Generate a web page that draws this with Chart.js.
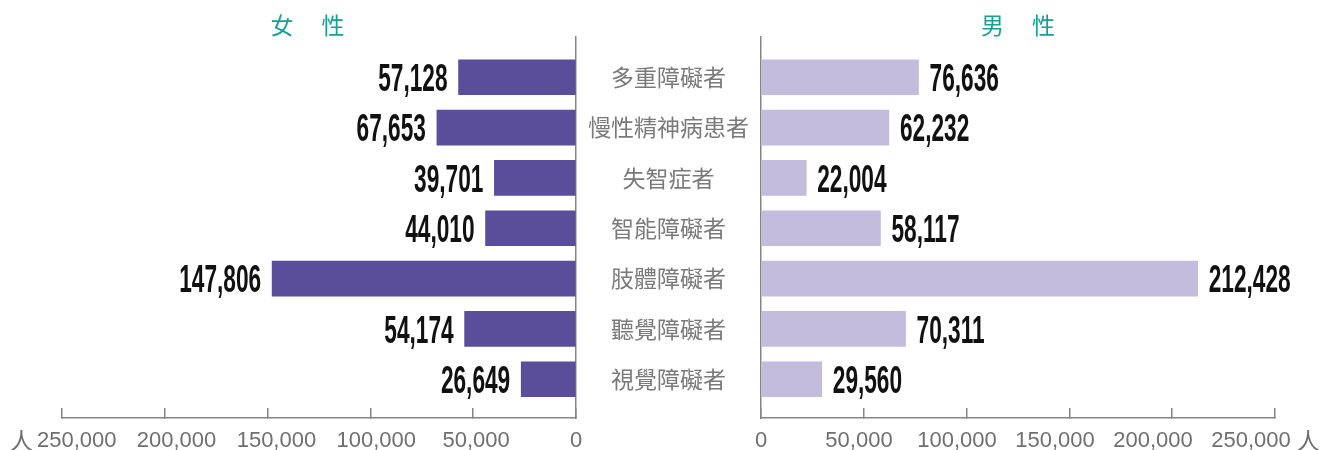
<!DOCTYPE html>
<html>
<head>
<meta charset="utf-8">
<script src="https://cdn.jsdelivr.net/npm/chart.js@4.4.1/dist/chart.umd.min.js"></script>
<style>
  html, body { margin: 0; padding: 0; background: #fff; }
  #wrap { position: relative; width: 1322px; height: 450px; }
  #femaleChart { position: absolute; left: 0; top: 0; }
  #maleChart { position: absolute; left: 577px; top: 0; }
</style>
</head>
<body>
<div id="wrap">
  <canvas id="femaleChart" width="600" height="450"></canvas>
  <canvas id="maleChart" width="745" height="450"></canvas>
</div>
<script>
var categories = ['多重障礙者', '慢性精神病患者', '失智症者', '智能障礙者', '肢體障礙者', '聽覺障礙者', '視覺障礙者'];
var femaleValues = [57128, 67653, 39701, 44010, 147806, 54174, 26649];
var maleValues = [76636, 62232, 22004, 58117, 212428, 70311, 29560];
var axisTicks = [0, 50000, 100000, 150000, 200000, 250000];
var axisMax = 250000;
var unitText = '人';

var AXIS_COLOR = '#858585';
var TICK_COLOR = '#6f6f6f';
var TICK_FONT = { family: '"Liberation Sans", Arial, sans-serif', size: 22 };
var CJK_FAMILY = '"Noto Sans CJK TC", "Noto Sans CJK SC", sans-serif';

function fmt(v) {
  return Number(v).toLocaleString('en-US');
}

function fixedTicks(list) {
  return function(scale) {
    scale.ticks = list.map(function(v) { return { value: v }; });
  };
}

// bold condensed numbers beside each bar
var valueLabels = {
  id: 'valueLabels',
  afterDatasetsDraw(chart, args, opts) {
    var ctx = chart.ctx;
    var meta = chart.getDatasetMeta(0);
    var data = chart.data.datasets[0].data;
    ctx.save();
    ctx.font = 'bold 38px "Liberation Sans", Arial, sans-serif';
    ctx.fillStyle = '#111111';
    ctx.textBaseline = 'alphabetic';
    ctx.textAlign = 'left';
    var squeeze = 12.6 / ctx.measureText('0').width;
    meta.data.forEach(function(bar, i) {
      var text = fmt(data[i].x);
      var w = ctx.measureText(text).width * squeeze;
      var x = opts.side === 'left' ? bar.x - 11 - w : bar.x + 11;
      ctx.save();
      ctx.translate(x, bar.y + 13.8);
      ctx.scale(squeeze, 1);
      ctx.fillText(text, 0, 0);
      ctx.restore();
    });
    ctx.restore();
  }
};

// unit mark next to the outermost tick label
var unitMark = {
  id: 'unitMark',
  afterDraw(chart, args, opts) {
    var ctx = chart.ctx;
    var scale = chart.scales.xLabels;
    var last = axisTicks[axisTicks.length - 1];
    ctx.save();
    ctx.font = TICK_FONT.size + 'px ' + TICK_FONT.family;
    var half = ctx.measureText(fmt(last)).width / 2;
    var edge = scale.getPixelForValue(last);
    var y = scale.top + 22;
    ctx.font = '23px ' + CJK_FAMILY;
    ctx.fillStyle = TICK_COLOR;
    ctx.textBaseline = 'middle';
    if (opts.side === 'left') {
      ctx.textAlign = 'right';
      ctx.fillText(unitText, edge - half - 4, y);
    } else {
      ctx.textAlign = 'left';
      ctx.fillText(unitText, edge + half + 6, y);
    }
    ctx.restore();
  }
};

function buildChart(canvasId, side, title, values, color, labelRange, padding) {
  var isLeft = side === 'left';
  var yAxis = {
    type: 'linear',
    position: isLeft ? 'right' : 'left',
    reverse: true,
    min: -0.8,
    max: 6.77,
    offset: false,
    afterBuildTicks: fixedTicks(categories.map(function(c, i) { return i; })),
    grid: { display: false, drawTicks: false, offset: false },
    border: { display: true, color: AXIS_COLOR, width: 1.5 },
    ticks: { display: false }
  };
  if (!isLeft) {
    yAxis.ticks = {
      display: true,
      crossAlign: 'center',
      padding: 12,
      color: '#7a7a7a',
      font: { family: CJK_FAMILY, size: 23 },
      callback: function(v) { return categories[v]; }
    };
    yAxis.afterFit = function(scale) { scale.width = 184; };
  }

  return new Chart(document.getElementById(canvasId), {
    type: 'bar',
    data: {
      datasets: [{
        data: values.map(function(v, i) { return { x: v, y: i }; }),
        backgroundColor: color,
        borderWidth: 0,
        barThickness: 35
      }]
    },
    options: {
      indexAxis: 'y',
      responsive: false,
      animation: false,
      layout: { padding: padding },
      plugins: {
        legend: { display: false },
        tooltip: { enabled: false },
        title: {
          display: true,
          text: title,
          fullSize: false,
          color: '#17a096',
          font: { family: CJK_FAMILY, size: 23, weight: 'normal', lineHeight: 1 },
          padding: { top: 14, bottom: 0 }
        },
        valueLabels: { side: side },
        unitMark: { side: side }
      },
      scales: {
        // tick marks and base line
        x: {
          type: 'linear',
          position: 'bottom',
          min: 0,
          max: axisMax,
          reverse: isLeft,
          weight: 0,
          afterBuildTicks: fixedTicks(axisTicks),
          afterFit: function(scale) { scale.height = 0; },
          ticks: { display: false },
          grid: { display: true, drawOnChartArea: false, drawTicks: true, tickLength: -10, color: AXIS_COLOR, lineWidth: 1.5 },
          border: { display: true, color: AXIS_COLOR, width: 1.5 }
        },
        // tick labels, spaced a little tighter than the marks
        xLabels: {
          type: 'linear',
          position: 'bottom',
          min: 0,
          max: labelRange,
          reverse: isLeft,
          weight: 1,
          afterBuildTicks: fixedTicks(axisTicks),
          afterFit: function(scale) { scale.height = 32; },
          ticks: {
            display: true,
            padding: 10,
            maxRotation: 0,
            autoSkip: false,
            color: TICK_COLOR,
            font: TICK_FONT,
            callback: function(v) { return fmt(v); }
          },
          grid: { display: false, drawTicks: false },
          border: { display: false }
        },
        y: yAxis
      }
    },
    plugins: [valueLabels, unitMark]
  });
}

// trailing full-width space nudges the left heading toward the axis
var femaleChart = buildChart('femaleChart', 'left', '女　 性　', femaleValues, '#5a4e9b', 257360,
  { left: 62, right: 24, top: 0, bottom: 0 });
var maleChart = buildChart('maleChart', 'right', '男　 性', maleValues, '#c4bcdd', 262245,
  { left: 0, right: 47, top: 0, bottom: 0 });
</script>
</body>
</html>
